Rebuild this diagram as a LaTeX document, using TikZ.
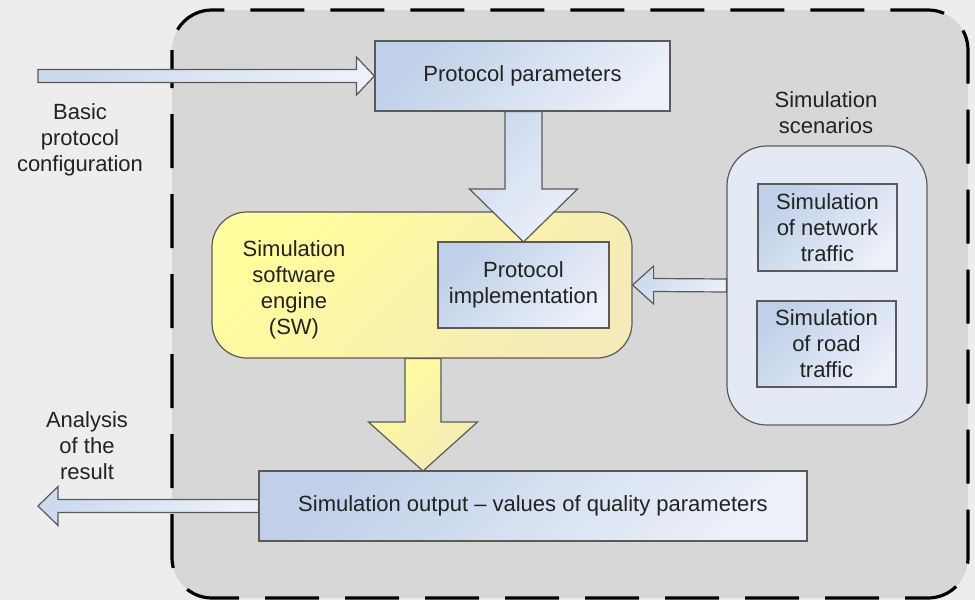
\documentclass[tikz,border=0pt]{standalone}
\usepackage{fontspec}
\setmainfont{Liberation Sans}
\usetikzlibrary{calc}
\definecolor{bgout}{HTML}{EDEDED}
\definecolor{bgin}{HTML}{D7D7D7}
\definecolor{edge}{HTML}{5A5A5A}
\definecolor{txt}{HTML}{222222}
\definecolor{bdark}{HTML}{BFD0E8}
\definecolor{blight}{HTML}{EBF0F9}
\definecolor{adark}{HTML}{CCDAEE}
\definecolor{ydark}{HTML}{FFFD9C}
\definecolor{ylight}{HTML}{F5EBB8}
\definecolor{scfill}{HTML}{E4EAF5}
\tikzset{
  bluebox/.style={draw=edge, line width=0.6pt, top color=bdark, bottom color=blight, shading angle=45, inner sep=0pt, align=center, text=txt},
  yelbox/.style={draw=edge, line width=0.6pt, top color=ydark, bottom color=ylight, shading angle=45, inner sep=0pt, rounded corners=17.5pt},
  scbox/.style={draw=edge, line width=0.6pt, fill=scfill, inner sep=0pt, rounded corners=20pt},
  lbl/.style={align=center, text=txt, inner sep=0pt},
  barrow/.style={draw=edge, line width=0.6pt, top color=adark, bottom color=blight, shading angle=45, line join=miter},
  yarrow/.style={draw=edge, line width=0.6pt, top color=ydark, bottom color=ylight, shading angle=45, line join=miter},
  frame/.style={draw=black, line width=1.6pt, fill=bgin, rounded corners=20pt, dash pattern=on 27pt off 13pt, dash phase=8pt}
}
\begin{document}
\begin{tikzpicture}[x=0.5pt,y=-0.5pt, font=\fontsize{11}{13}\selectfont]
\useasboundingbox (0,0) rectangle (975,600);
\fill[bgout] (0,0) rectangle (975,600);
\path[frame] (172,10) rectangle (968,598);

% boxes
\node[bluebox, minimum width=147.5pt, minimum height=35pt] (pp) at (522.5,76) {Protocol parameters};
\node[yelbox, minimum width=210pt, minimum height=73pt] (eng) at (422,285) {};
\node[lbl] (engl) at (294,290) {Simulation\\software\\engine\\(SW)};
\node[bluebox, minimum width=274pt, minimum height=35pt] (out) at (533,506) {Simulation output -- values of quality parameters};
\node[scbox, minimum width=100pt, minimum height=139.5pt] (scen) at (827,285.5) {};
\node[lbl] (scenl) at (826,113) {Simulation\\scenarios};

% arrow pp -> impl (drawn over engine border)
\coordinate (impltop) at (523.5,242);
\draw[barrow] ($(impltop |- pp.south)+(-18.5,0)$) -- ($(impltop)+(-18.5,-53)$) -- ($(impltop)+(-54,-53)$) -- (impltop) -- ($(impltop)+(54,-53)$) -- ($(impltop)+(18.5,-53)$) -- ($(impltop |- pp.south)+(18.5,0)$) -- cycle;

\node[bluebox, minimum width=85.5pt, minimum height=43pt] (impl) at (523.5,285) {Protocol\\implementation};
\node[bluebox, minimum width=69.5pt, minimum height=43.5pt] (net) at (827.5,227.5) {Simulation\\of network\\traffic};
\node[bluebox, minimum width=69.5pt, minimum height=43pt] (road) at (826.5,344) {Simulation\\of road\\traffic};

% input arrow
\coordinate (in) at (38,76);
\draw[barrow] ($(in)+(0,-6.5)$) -- ($(pp.west)+(-18,-6.5)$) -- ($(pp.west)+(-18,-19)$) -- (pp.west) -- ($(pp.west)+(-18,19)$) -- ($(pp.west)+(-18,6.5)$) -- ($(in)+(0,6.5)$) -- cycle;
\node[lbl] (inl) at (80,140) {Basic\\protocol\\configuration};

% scenarios -> engine
\draw[barrow] ($(scen.west)+(0,-6.5)$) -- ($(eng.east)+(21,-6.5)$) -- ($(eng.east)+(21,-19)$) -- (eng.east) -- ($(eng.east)+(21,19)$) -- ($(eng.east)+(21,6.5)$) -- ($(scen.west)+(0,6.5)$) -- cycle;

% engine -> output (yellow)
\coordinate (outtop) at (423,471);
\draw[yarrow] ($(outtop |- eng.south)+(-18,0)$) -- ($(outtop)+(-18,-49)$) -- ($(outtop)+(-54.5,-49)$) -- (outtop) -- ($(outtop)+(54.5,-49)$) -- ($(outtop)+(18,-49)$) -- ($(outtop |- eng.south)+(18,0)$) -- cycle;

% output arrow
\coordinate (res) at (38,506);
\draw[barrow] ($(out.west)+(0,-6.5)$) -- ($(res)+(20,-6.5)$) -- ($(res)+(20,-19.5)$) -- (res) -- ($(res)+(20,19.5)$) -- ($(res)+(20,6.5)$) -- ($(out.west)+(0,6.5)$) -- cycle;
\node[lbl] (resl) at (87,446) {Analysis\\of the\\result};
\end{tikzpicture}
\end{document}
